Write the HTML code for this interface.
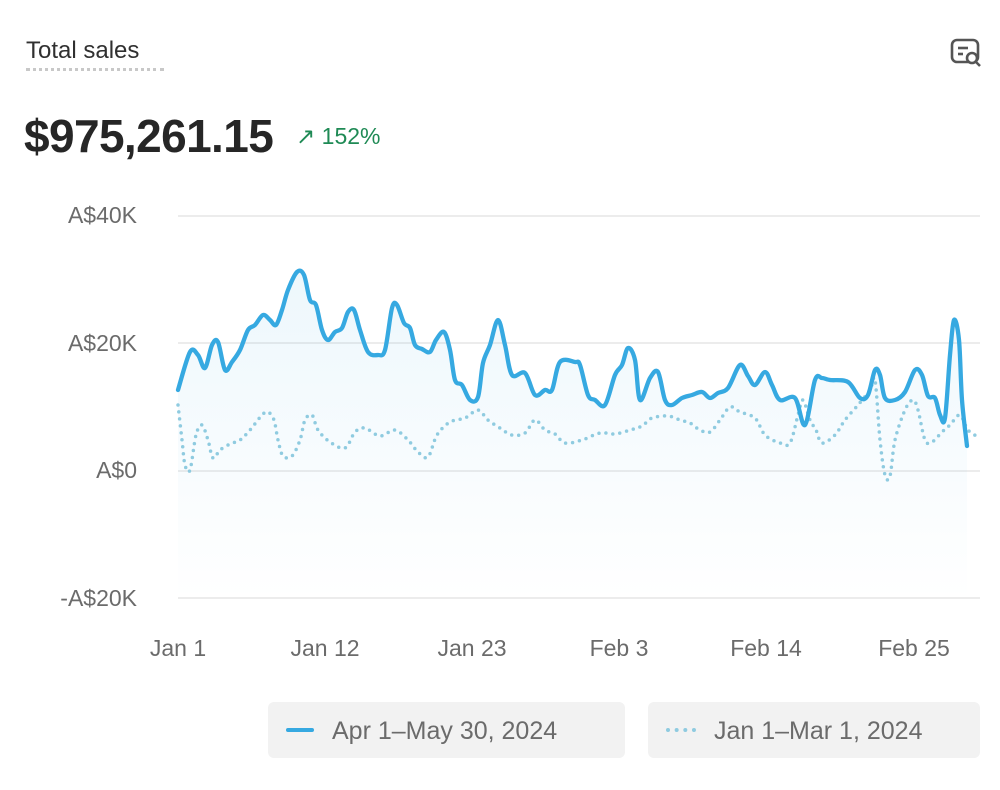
<!DOCTYPE html>
<html><head><meta charset="utf-8"><style>
html,body{margin:0;padding:0;background:#fff;width:1000px;height:790px;overflow:hidden;font-family:"Liberation Sans",Arial,sans-serif;}
.t{position:absolute;left:26px;top:37px;font-size:24px;color:#303030;}
.u{position:absolute;left:26px;top:68px;width:138px;border-top:3px dotted #c8c8c8;}
.big{position:absolute;left:24px;top:109px;font-size:46px;font-weight:bold;color:#262626;letter-spacing:-0.6px;}
.pct{position:absolute;left:296px;top:123px;font-size:23px;color:#1f8a55;}
.yl{position:absolute;width:120px;left:17px;text-align:right;font-size:23px;color:#6b6b6b;}
.xl{position:absolute;top:635px;font-size:23px;color:#6b6b6b;transform:translateX(-50%);}
.lg{position:absolute;top:702px;height:56px;background:#f2f2f2;border-radius:6px;font-size:25px;color:#6b6b6b;line-height:58px;}
</style></head><body>
<div class="t">Total sales</div><div class="u"></div>
<svg style="position:absolute;left:950px;top:38px" width="34" height="30" viewBox="0 0 34 30"><rect x="2" y="2" width="26" height="22" rx="5" fill="none" stroke="#555" stroke-width="2.6"/><line x1="8" y1="10" x2="18" y2="10" stroke="#555" stroke-width="2.6"/><line x1="8" y1="16" x2="13" y2="16" stroke="#555" stroke-width="2.6"/><circle cx="22" cy="20" r="5" fill="#fff" stroke="#555" stroke-width="2.6"/><line x1="26" y1="24" x2="30" y2="28" stroke="#555" stroke-width="2.6"/></svg>
<div class="big">$975,261.15</div>
<div class="pct">↗ 152%</div>
<div class="yl" style="top:202px">A$40K</div>
<div class="yl" style="top:330px">A$20K</div>
<div class="yl" style="top:457px">A$0</div>
<div class="yl" style="top:585px">-A$20K</div>
<div class="xl" style="left:178px">Jan 1</div>
<div class="xl" style="left:325px">Jan 12</div>
<div class="xl" style="left:472px">Jan 23</div>
<div class="xl" style="left:619px">Feb 3</div>
<div class="xl" style="left:766px">Feb 14</div>
<div class="xl" style="left:914px">Feb 25</div>
<svg id="c" style="position:absolute;left:0;top:0" width="1000" height="790">
<defs><linearGradient id="g" x1="0" y1="0" x2="0" y2="1"><stop offset="0" stop-color="#3aa8e0" stop-opacity="0.09"/><stop offset="1" stop-color="#3aa8e0" stop-opacity="0"/></linearGradient></defs>
<g stroke="#e6e6e6" stroke-width="1.5"><line x1="178" y1="216" x2="980" y2="216"/><line x1="178" y1="343" x2="980" y2="343"/><line x1="178" y1="471" x2="980" y2="471"/><line x1="178" y1="598" x2="980" y2="598"/></g>
<path id="fill" fill="url(#g)"/>
<path id="dot" fill="none" stroke="#8fcbe0" stroke-width="3.5" stroke-linecap="round" stroke-dasharray="0 7"/>
<path id="sol" fill="none" stroke="#36a9e1" stroke-width="4.3" stroke-linejoin="round" stroke-linecap="round"/>
</svg>
<div class="lg" style="left:268px;width:357px"><span style="display:inline-block;width:28px;height:4px;background:#36a9e1;border-radius:2px;vertical-align:middle;margin:0 18px 4px 18px"></span>Apr 1–May 30, 2024</div>
<div class="lg" style="left:648px;width:332px"><span style="display:inline-block;width:30px;border-top:4px dotted #8fcbe0;vertical-align:middle;margin:0 18px 4px 18px"></span>Jan 1–Mar 1, 2024</div>
<script>
var S=[[178,390],[190,352],[198,355],[205,368],[212,345],[218,342],[225,370],[232,362],[240,350],[248,330],[255,325],[263,315],[270,320],[276,325],[282,310],[288,290],[297,272],[304,275],[310,300],[316,305],[322,330],[328,340],[335,332],[342,328],[348,312],[354,310],[360,330],[368,352],[378,355],[385,350],[392,308],[397,305],[404,323],[410,328],[415,345],[422,349],[430,352],[436,340],[444,332],[450,350],[455,380],[462,385],[470,400],[478,397],[483,363],[490,345],[498,320],[505,345],[512,375],[525,373],[535,395],[545,390],[552,390],[560,362],[575,362],[580,365],[588,395],[595,400],[605,405],[615,375],[622,365],[628,348],[635,360],[640,400],[650,378],[658,372],[665,400],[672,405],[682,398],[692,395],[702,392],[710,398],[718,393],[728,388],[740,365],[748,376],[755,385],[765,372],[772,385],[780,400],[795,398],[805,425],[815,380],[822,378],[830,380],[848,382],[860,398],[868,395],[875,370],[880,375],[885,398],[895,400],[905,392],[915,370],[922,375],[928,396],[935,398],[940,415],[945,418],[950,355],[954,320],[959,340],[962,400],[967,446]];
var D=[[178,405],[182,440],[185,465],[190,470],[196,435],[202,425],[208,440],[213,458],[220,450],[230,444],[240,440],[250,430],[262,415],[268,412],[274,420],[278,440],[283,456],[292,456],[300,440],[305,420],[312,415],[318,430],[330,442],[345,448],[355,432],[365,428],[380,436],[395,430],[408,440],[418,452],[428,457],[437,435],[450,422],[465,418],[478,410],[488,420],[500,428],[512,435],[525,433],[535,420],[545,430],[555,434],[565,443],[582,440],[600,433],[615,434],[630,430],[642,426],[652,418],[668,416],[680,420],[690,423],[700,430],[710,432],[720,420],[730,407],[740,412],[755,418],[765,435],[780,443],[790,443],[798,415],[803,400],[810,420],[816,430],[822,443],[835,435],[845,420],[858,405],[870,390],[875,380],[880,440],[885,475],[890,476],[895,440],[905,410],[913,400],[918,410],[925,440],[932,442],[942,432],[950,425],[960,415],[968,430],[980,438]];
function cr(p){var d="M"+p[0][0]+","+p[0][1];for(var i=0;i<p.length-1;i++){var a=p[i-1]||p[i],b=p[i],c=p[i+1],e=p[i+2]||c;d+=" C"+(b[0]+(c[0]-a[0])/6)+","+(b[1]+(c[1]-a[1])/6)+" "+(c[0]-(e[0]-b[0])/6)+","+(c[1]-(e[1]-b[1])/6)+" "+c[0]+","+c[1];}return d;}
var s=cr(S);document.getElementById('sol').setAttribute('d',s);
document.getElementById('dot').setAttribute('d',cr(D));
document.getElementById('fill').setAttribute('d',s+" L967,600 L178,600 Z");
</script>
</body></html>
